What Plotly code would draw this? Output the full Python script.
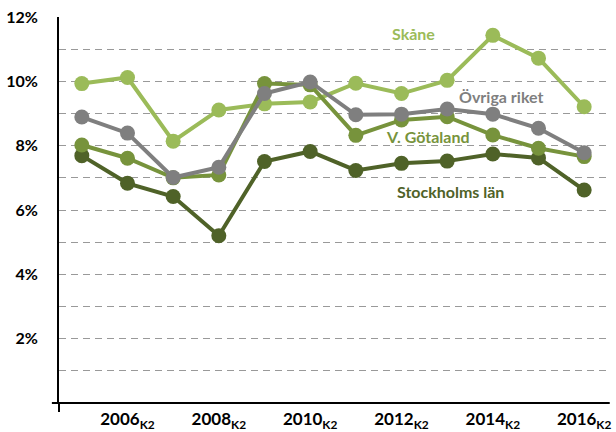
import plotly.graph_objects as go

years = list(range(2005, 2017))
skane = [9.93, 10.12, 8.14, 9.11, 9.30, 9.36, 9.94, 9.62, 10.03, 11.43, 10.72, 9.21]
ovriga = [8.89, 8.39, 7.01, 7.33, 9.62, 9.98, 8.96, 8.98, 9.14, 8.98, 8.54, 7.78]
vgotaland = [8.02, 7.61, 7.00, 7.09, 9.93, 9.89, 8.32, 8.80, 8.90, 8.33, 7.92, 7.66]
stockholm = [7.69, 6.83, 6.42, 5.20, 7.51, 7.82, 7.23, 7.45, 7.52, 7.74, 7.62, 6.62]

series = [
    ("Stockholms län", stockholm, "#4F6228"),
    ("Skåne", skane, "#9BBB59"),
    ("V. Götaland", vgotaland, "#77933C"),
    ("Övriga riket", ovriga, "#7F7F7F"),
]

tick_years = [2006, 2008, 2010, 2012, 2014, 2016]
tick_text = [f"{y}<sub>K2</sub>" for y in tick_years]
y_ticks = [2, 4, 6, 8, 10, 12]
y_tick_text = [f"{v}%" for v in y_ticks]

FONT = "Lato"

fig = go.Figure()
for name, vals, col in series:
    fig.add_trace(go.Scatter(
        x=years, y=vals, name=name, mode="lines+markers",
        line=dict(color=col, width=4),
        marker=dict(color=col, size=15),
        showlegend=False, hoverinfo="skip",
    ))

labels = [
    ("Skåne", 2012.26, 11.48, "#9BBB59"),
    ("Övriga riket", 2014.17, 9.52, "#7F7F7F"),
    ("V. Götaland", 2012.59, 8.27, "#77933C"),
    ("Stockholms län", 2013.07, 6.56, "#4F6228"),
]
for text, x, y, col in labels:
    fig.add_annotation(x=x, y=y, text=f"<b>{text}</b>", showarrow=False,
                       font=dict(family=FONT, size=16, color=col),
                       xanchor="center", yanchor="middle")

fig.update_layout(
    width=616, height=432,
    margin=dict(l=59, r=9, t=17, b=29),
    paper_bgcolor="white", plot_bgcolor="white",
    font=dict(family=FONT, color="black"),
    xaxis=dict(
        range=[2004.5, 2016.5], tickvals=tick_years, ticktext=tick_text,
        showgrid=False, zeroline=False, showline=False, automargin=False,
        tickfont=dict(family=FONT, size=17, color="black", weight="bold"),
        ticks="", ticklabelstandoff=4,
    ),
    yaxis=dict(
        range=[0, 12], tickvals=y_ticks, ticktext=y_tick_text, automargin=False,
        showgrid=True, gridcolor="#999999", gridwidth=1.3, griddash="7px,5px",
        minor=dict(dtick=1, tick0=0, showgrid=True, gridcolor="#999999",
                   gridwidth=1.3, griddash="7px,5px"),
        zeroline=False, showline=True, linecolor="black", linewidth=2,
        tickfont=dict(family=FONT, size=16, color="black", weight="bold"),
        ticks="", ticklabelstandoff=16,
    ),
)

# horizontal axis line (extends slightly left of the y axis) and small tick below
fig.add_shape(type="line", xref="paper", yref="paper", x0=-0.013, x1=1.005, y0=0, y1=0,
              line=dict(color="black", width=2))
fig.add_shape(type="line", xref="paper", yref="paper", x0=0, x1=0, y0=0, y1=-0.023,
              line=dict(color="black", width=2))

fig.write_html("out.html", config={"displayModeBar": False},
               post_script="document.body.style.margin='0';document.body.style.overflow='hidden';")
